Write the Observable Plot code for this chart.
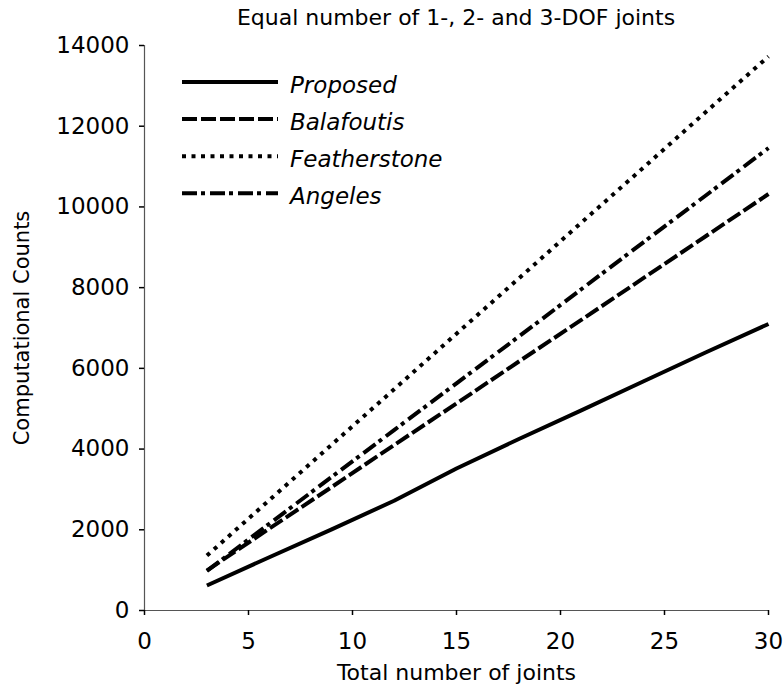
<!DOCTYPE html>
<html><head><meta charset="utf-8">
<script src="https://cdn.jsdelivr.net/npm/d3@7"></script>
<script src="https://cdn.jsdelivr.net/npm/@observablehq/plot@0.6"></script>
<style>
body{margin:0;background:#fff;}
#wrap{position:relative;width:783px;height:686px;font-family:"DejaVu Sans",sans-serif;}
#title{position:absolute;left:0;top:3px;width:783px;padding-left:129px;box-sizing:border-box;text-align:center;font-size:22px;line-height:30px;color:#000;white-space:nowrap;}
#chart{position:absolute;left:0;top:30px;}
#legend{position:absolute;left:0;top:0;pointer-events:none;}
</style></head><body>
<div id="wrap"><div id="title"></div><div id="chart"></div><svg id="legend" width="783" height="686"></svg></div>
<script>
const titleText = "Equal number of 1-, 2- and 3-DOF joints";
const xLabel = "Total number of joints";
const yLabel = "Computational Counts";
const joints = [3, 6, 9, 12, 15, 18, 21, 24, 27, 30];
const proposed = [620, 1320, 2010, 2720, 3520, 4250, 4960, 5680, 6400, 7100];
const balafoutis = [990, 2030, 3060, 4100, 5130, 6170, 7200, 8240, 9280, 10320];
const featherstone = [1360, 2735, 4110, 5480, 6860, 8230, 9610, 10980, 12360, 13730];
const angeles = [980, 2150, 3310, 4470, 5630, 6790, 7960, 9130, 10290, 11460];
const seriesNames = ["Proposed", "Balafoutis", "Featherstone", "Angeles"];
const xTicks = [0, 5, 10, 15, 20, 25, 30];
const yTicks = [0, 2000, 4000, 6000, 8000, 10000, 12000, 14000];

const dashes = [null, "15,4", "4,5.5", "15,4,4,5"];
const values = [proposed, balafoutis, featherstone, angeles];
const series = seriesNames.map((name, k) => joints.map((x, i) => ({x, y: values[k][i], name})));
const font = '"DejaVu Sans", sans-serif';

document.getElementById("title").textContent = titleText;

const plot = Plot.plot({
  width: 783, height: 656,
  marginTop: 15, marginBottom: 76, marginLeft: 144, marginRight: 15,
  style: {fontFamily: font, fontSize: "23px", color: "#000", background: "#fff", overflow: "visible"},
  x: {domain: [0, 30]},
  y: {domain: [0, 14000]},
  marks: [
    Plot.ruleX([0], {stroke: "#555", strokeWidth: 1.2}),
    Plot.ruleY([0], {stroke: "#555", strokeWidth: 1.2}),
    Plot.axisX({ticks: xTicks, tickSize: 5, tickPadding: 16.7, label: null, strokeWidth: 1.5}),
    Plot.axisY({ticks: yTicks, tickSize: 5, tickPadding: 10, tickFormat: d3.format("d"), label: null, strokeWidth: 1.5}),
    ...series.map((d, k) => Plot.line(d, {x: "x", y: "y", stroke: "#000", strokeWidth: 4,
      strokeDasharray: dashes[k] || undefined, strokeLinecap: "butt", strokeLinejoin: "round"})),
    Plot.text([xLabel], {text: d => d, frameAnchor: "bottom", textAnchor: "middle", lineAnchor: "middle", dy: 62.3, fontSize: 22}),
    Plot.text([yLabel], {text: d => d, frameAnchor: "left", textAnchor: "middle", lineAnchor: "middle", rotate: -90, dx: -122, fontSize: 21})
  ]
});
document.getElementById("chart").appendChild(plot);

// legend
const lg = d3.select("#legend");
seriesNames.forEach((name, k) => {
  const yy = 82 + k * 37.1;
  lg.append("line").attr("x1", 182).attr("x2", 278).attr("y1", yy).attr("y2", yy)
    .attr("stroke", "#000").attr("stroke-width", 4)
    .attr("stroke-dasharray", dashes[k]).attr("stroke-linecap", "butt");
  lg.append("text").attr("x", 290).attr("y", yy + 10.7).text(name)
    .attr("font-family", font).attr("font-style", "italic").attr("font-size", 23).attr("fill", "#000");
});
</script>
</body></html>
